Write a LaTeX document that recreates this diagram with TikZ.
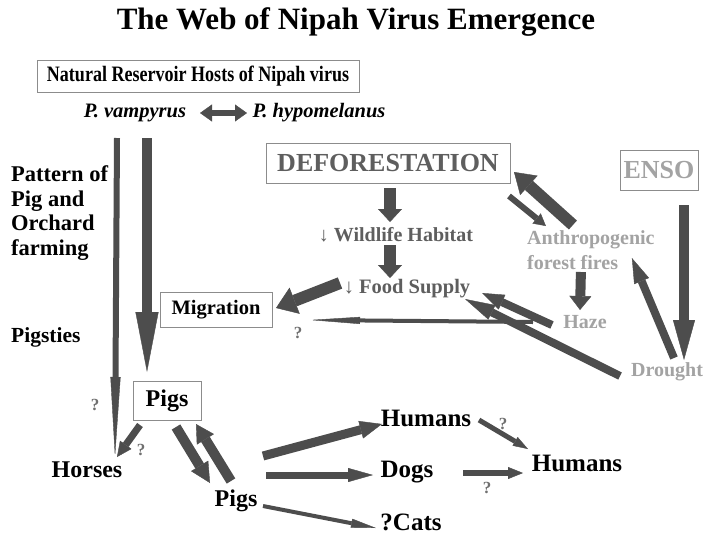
\documentclass[tikz,border=0pt]{standalone}
\usepackage{fontspec}
\setmainfont{Liberation Serif}
\newfontfamily\narrowserif{Liberation Serif}[FakeStretch=0.82]
\usetikzlibrary{arrows.meta}
\definecolor{arrowgray}{HTML}{4D4D4D}
\definecolor{boxgray}{HTML}{8C8C8C}
\definecolor{midgray}{HTML}{5E5E5E}
\definecolor{palegray}{HTML}{A3A3A3}
\definecolor{qgray}{HTML}{707070}

\begin{document}
\begin{tikzpicture}[x=1pt, y=-1pt,
  txt/.style={font=\bfseries\fontsize{#1}{#1}\selectfont, inner sep=1pt},
  framed/.style={draw=boxgray, line width=1pt},
  qmark/.style={text=qgray, font=\bfseries\fontsize{17}{17}\selectfont, inner sep=0pt},
  blk/.style n args={3}{draw=arrowgray, line width=#1pt, -{Triangle[length=#2pt, width=#3pt, line width=0.4pt]}}]
% ====================
% Canvas
\fill[white] (0,0) rectangle (706,536);
\useasboundingbox (0,0) rectangle (706,536);

% ====================
% Title and reservoir hosts
\node[txt=31] (title) at (356,22) {The Web of Nipah Virus Emergence};
\node[font=\narrowserif\bfseries\fontsize{22}{22}\selectfont, inner sep=1pt, framed, minimum width=322pt, minimum height=32pt] (res) at (198,76) {Natural Reservoir Hosts of Nipah virus};
\node[txt=20.5] (vamp) at (135,113) {\itshape P. vampyrus};
\node[txt=20.5] (hypo) at (319,113) {\itshape P. hypomelanus};
% Bats pass virus between each other
\draw[draw=arrowgray, line width=6pt, {Triangle[length=12pt, width=17pt, line width=0.4pt]}-{Triangle[length=12pt, width=17pt, line width=0.4pt]}]
  ([shift={(65,0)}]vamp.center) -- ([shift={(-72,0)}]hypo.center);

% ====================
% Farming side (left)
\node[font=\bfseries\fontsize{22.5}{24.5}\selectfont, align=left, anchor=west, inner sep=1pt] (pattern) at (10,213) {Pattern of\\Pig and\\Orchard\\farming};
\node[txt=21.5, anchor=west] (sties) at (10,337) {Pigsties};
\node[txt=20.5, framed, minimum width=112pt, minimum height=35pt] (migr) at (216,310) {Migration};
\node[txt=24, framed, minimum width=68pt, minimum height=39pt] (pigs) at (167,401) {Pigs};
\node[txt=24] (horses) at (87,470) {Horses};
\node[txt=24] (pigsb) at (236,501) {Pigs};
\node[qmark] (qa) at (95,405) {?};
\node[qmark] (qb) at (141,450) {?};
\node[qmark] (qc) at (298,333) {?};
% Bats down to horses and pigs
\draw[blk={6}{80}{10}] ([shift={(-18,25)}]vamp.center) -- ([shift={(28,-13)}]horses.center);
\draw[blk={10}{60}{23}] ([shift={(12,25)}]vamp.center) -- ([shift={(-20,-29)}]pigs.center);
% Pigs to horses and pigs to pigs
\draw[blk={7}{15}{14}] ([shift={(-27,24)}]pigs.center) -- ([shift={(30,-13)}]horses.center);
\draw[blk={10}{20}{20}] ([shift={(9,26)}]pigs.center) -- ([shift={(-26,-18)}]pigsb.center);
\draw[blk={10}{18}{20}] ([shift={(-5,-20)}]pigsb.center) -- ([shift={(29,23)}]pigs.center);

% ====================
% Spread to other species
\node[txt=25] (humansa) at (426,418) {Humans};
\node[txt=25] (dogs) at (407,472) {Dogs};
\node[txt=25] (cats) at (411,522) {?Cats};
\node[txt=25] (humansb) at (577,463) {Humans};
\node[qmark] (qd) at (503,424) {?};
\node[qmark] (qe) at (487,488) {?};
\draw[blk={9}{22}{18}] ([shift={(27,-45)}]pigsb.center) -- ([shift={(-44,6)}]humansa.center);
\draw[blk={7}{25}{14}] ([shift={(30,-26)}]pigsb.center) -- ([shift={(-34,3)}]dogs.center);
\draw[blk={4}{25}{9}] ([shift={(27,5)}]pigsb.center) -- ([shift={(-35,6)}]cats.center);
\draw[blk={5}{15}{10}] ([shift={(53,2)}]humansa.center) -- ([shift={(-49,-14)}]humansb.center);
\draw[blk={6}{15}{12}] ([shift={(56,1)}]dogs.center) -- ([shift={(-54,10)}]humansb.center);

% ====================
% Deforestation chain
\node[txt=26, text=midgray, framed, minimum width=244pt, minimum height=40pt] (defor) at (388,163) {DEFORESTATION};
\node[txt=20, text=midgray] (wild) at (396,235) {↓ Wildlife Habitat};
\node[txt=20.5, text=midgray] (food) at (407,289) {↓ Food Supply};
\draw[blk={12}{13}{24}] ([shift={(2,25)}]defor.center) -- ([shift={(-6,-13)}]wild.center);
\draw[blk={12}{13}{24}] ([shift={(-6,10)}]wild.center) -- ([shift={(-17,-11)}]food.center);
\draw[blk={12}{20}{28}] ([shift={(-67,-6)}]food.center) -- ([shift={(60,-2)}]migr.center);

% ====================
% Climate side (ENSO, fires, haze, drought)
\node[txt=26, text=palegray, framed, minimum width=78pt, minimum height=40pt] (enso) at (659,170) {ENSO};
\node[font=\bfseries\fontsize{20}{25}\selectfont, text=palegray, align=left, anchor=west, inner sep=1pt] (fires) at (526,250) {Anthropogenic\\forest fires};
\node[txt=20, text=palegray] (haze) at (585,322) {Haze};
\node[txt=20, text=palegray] (drought) at (667,372) {Drought};
\draw[blk={12}{20}{26}] ([shift={(-18,-25)}]fires.center) -- ([shift={(126,9)}]defor.center);
\draw[blk={6}{12}{13}] ([shift={(121,33)}]defor.center) -- ([shift={(-45,-24)}]fires.center);
\draw[blk={10}{40}{22}] ([shift={(25,35)}]enso.center) -- ([shift={(17,-12)}]drought.center);
\draw[blk={8}{25}{16}] ([shift={(7,-14)}]drought.center) -- ([shift={(41,8)}]fires.center);
\draw[blk={10}{14}{22}] ([shift={(-10,22)}]fires.center) -- ([shift={(-5,-12)}]haze.center);
\draw[blk={8}{22}{16}] ([shift={(-33,3)}]haze.center) -- ([shift={(75,4)}]food.center);
\draw[blk={8}{30}{16}] ([shift={(-47,4)}]drought.center) -- ([shift={(58,10)}]food.center);
\draw[blk={4}{50}{7}] ([shift={(-52,0)}]haze.center) -- ([shift={(94,10)}]migr.center);

\end{tikzpicture}
\end{document}
